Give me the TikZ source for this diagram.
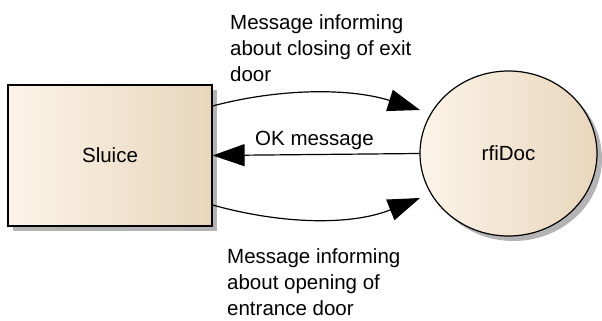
\documentclass[tikz,border=0pt]{standalone}
\usepackage{fontspec}
\setmainfont{Liberation Sans}
\usetikzlibrary{arrows.meta,shadows,shapes.geometric}
\definecolor{fillL}{HTML}{FCF4E8}
\definecolor{fillM}{HTML}{F7EDDE}
\definecolor{fillR}{HTML}{E8D6BC}
\definecolor{shadowgray}{HTML}{B4B4B4}
\tikzset{
  elem/.style={draw=black, line width=1.2pt, left color=fillL, middle color=fillM, right color=fillR,
    drop shadow={shadow xshift=5pt, shadow yshift=-5pt, fill=shadowgray, opacity=1},
    inner sep=0pt, font=\fontsize{20.5}{25}\selectfont},
  msg/.style={line width=1.2pt, -{Triangle[length=32pt,width=22pt]}},
  lbl/.style={inner sep=0pt, align=left, font=\fontsize{20.5}{26}\selectfont},
}
\begin{document}
\begin{tikzpicture}[x=1pt,y=-1pt]
\useasboundingbox (0,0) rectangle (602,321);
\node[elem, rectangle, minimum width=204pt, minimum height=141pt] (sluice) at (110,155.5) {Sluice};
\node[elem, ellipse, minimum width=177pt, minimum height=165pt] (doc) at (508.5,153.5) {rfiDoc};
\coordinate (s1) at ([yshift=49.5pt]sluice.east);
\coordinate (s3) at ([yshift=-49.5pt]sluice.east);
\coordinate (d1) at ([shift={(-88.5,-43.5)}]doc.center);
\coordinate (d3) at ([shift={(-88.5,44.5)}]doc.center);
\draw[msg] (s1) .. controls ([shift={(68,-18)}]s1) and ([shift={(-70,-22)}]d1) .. (d1);
\draw[msg] (doc.west) -- (sluice.east);
\draw[msg] (s3) .. controls ([shift={(68,19)}]s3) and ([shift={(-70,28)}]d3) .. (d3);
\node[lbl, anchor=north west] (l1) at (230,14.5) {Message informing\\about closing of exit\\door};
\node[lbl, anchor=base west] (l2) at (255,145) {OK message};
\node[lbl, anchor=north west] (l3) at (227,248) {Message informing\\about opening of\\entrance door};
\end{tikzpicture}
\end{document}
